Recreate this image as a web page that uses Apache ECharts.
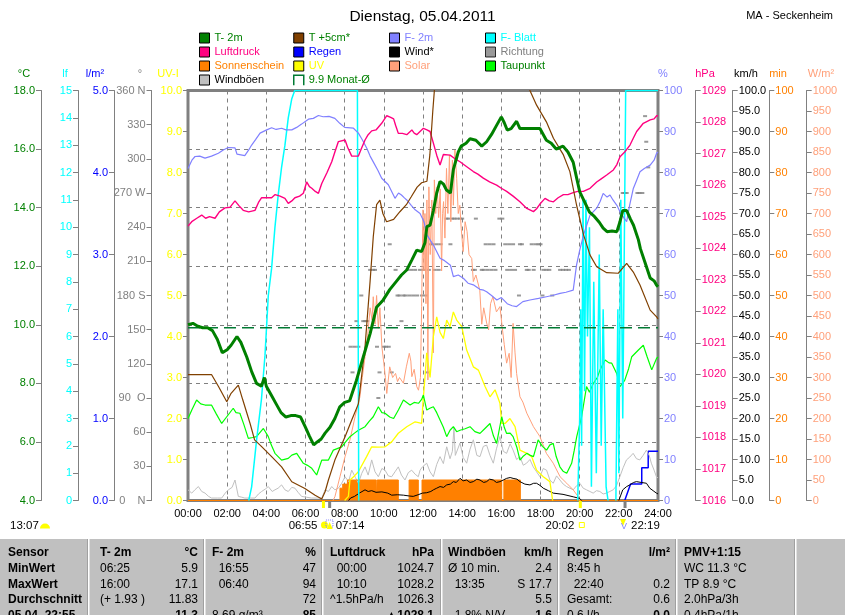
<!DOCTYPE html>
<html><head><meta charset="utf-8">
<script src="https://cdn.jsdelivr.net/npm/echarts@6/dist/echarts.min.js"></script>
<style>html,body{margin:0;padding:0;background:#fff}#c{width:845px;height:615px}</style>
</head><body><div id="c"></div>
<script>
// ---------- DATA (time in hours, value) ----------
const xTickLabels = ['00:00','02:00','04:00','06:00','08:00','10:00','12:00','14:00','16:00','18:00','20:00','22:00','24:00'];
const dirTickLabels = {0:'0    N', 90:'90  O', 180:'180 S', 270:'270 W', 360:'360 N'};

const t2mData = [[0,10.0],[0.25,10.05],[0.5,9.95],[0.75,9.9],[1.0,9.9],[1.25,9.8],[1.5,9.5],[1.75,9.05],[2.0,9.15],[2.2,9.3],[2.5,9.6],[2.7,9.4],[3.0,8.9],[3.25,8.4],[3.5,8.0],[3.75,7.9],[3.9,8.2],[4.0,7.9],[4.25,7.6],[4.5,7.3],[4.75,7.0],[5.0,6.85],[5.25,6.9],[5.5,6.9],[5.75,6.85],[6.0,6.5],[6.2,6.2],[6.42,5.9],[6.6,6.0],[6.8,6.1],[7.0,6.3],[7.25,6.5],[7.5,6.8],[7.75,7.2],[8.0,7.35],[8.25,7.4],[8.6,8.1],[8.95,8.9],[9.3,9.7],[9.63,10.6],[9.97,10.85],[10.3,11.2],[10.66,11.5],[10.9,11.7],[11.17,11.87],[11.42,12.2],[11.68,12.55],[11.93,12.5],[12.1,12.8],[12.2,13.35],[12.36,13.4],[12.53,13.9],[12.7,14.5],[12.87,14.9],[13.05,14.8],[13.2,14.6],[13.4,14.5],[13.55,15.3],[13.8,15.9],[13.95,16.1],[14.2,16.2],[14.4,16.35],[14.7,16.3],[15.0,16.1],[15.25,16.25],[15.5,16.5],[15.75,16.8],[16.0,17.1],[16.15,16.9],[16.3,16.65],[16.5,16.7],[16.78,16.95],[16.95,16.7],[17.3,16.7],[17.97,16.7],[18.3,16.3],[18.55,16.2],[18.8,16.0],[19.15,16.1],[19.4,15.9],[19.67,15.55],[19.85,15.0],[20.0,14.55],[20.25,14.2],[20.5,13.85],[20.75,13.7],[21.0,13.5],[21.2,13.3],[21.4,13.18],[21.65,13.2],[21.9,13.18],[22.05,13.5],[22.2,13.9],[22.4,13.9],[22.6,13.6],[22.75,13.4],[23.0,12.9],[23.1,12.6],[23.35,12.1],[23.6,11.6],[23.8,11.5],[23.93,11.35],[24,11.3]];

const t5cmData = [[0,8.3],[0.5,8.3],[1.0,8.3],[1.2,8.3],[1.55,7.9],[1.98,7.37],[2.2,7.66],[2.57,7.94],[2.8,7.43],[3.17,6.63],[3.4,6.07],[3.76,5.84],[4.27,5.5],[4.78,5.15],[5.3,4.64],[5.97,4.41],[6.49,4.18],[6.83,4.05],[7.0,4.3],[7.17,4.7],[7.5,5.38],[8.02,6.18],[8.36,6.75],[8.7,7.3],[9.04,9.25],[9.3,11.5],[9.46,13.0],[9.63,14.1],[9.8,14.26],[9.95,13.8],[10.14,13.52],[10.5,13.6],[10.82,13.86],[11.15,14.1],[11.4,14.37],[11.7,14.7],[11.93,14.85],[12.2,14.9],[12.35,15.8],[12.5,17.3],[12.65,18.6],[13.0,20.5],[14.0,23.0],[15.0,23.5],[16.0,22.5],[17.0,19.5],[17.46,18.0],[17.8,17.5],[18.3,16.93],[18.66,16.37],[19.17,15.8],[19.5,15.23],[19.84,14.09],[20.2,13.07],[20.53,12.38],[20.87,11.98],[21.38,11.78],[21.97,11.76],[22.4,12.1],[22.74,11.8],[23.08,11.36],[23.6,10.5],[23.93,10.27],[24,10.2]];

const f2mData = [[0,81],[0.2,83],[0.36,83.9],[0.6,84],[0.87,83.5],[1.2,84],[1.55,84.7],[1.8,85.5],[2.06,86.1],[2.4,86],[2.5,84.5],[2.57,84.1],[2.9,84.1],[3.1,85.5],[3.25,86.7],[3.45,88],[3.68,89.6],[4.02,90.4],[4.27,90.9],[4.5,90.5],[4.78,90.8],[5.0,90.4],[5.3,90.4],[5.55,91],[5.8,91.8],[6.15,93],[6.4,93.2],[6.66,93.9],[6.9,93.6],[7.2,93.7],[7.5,93.2],[7.75,92],[8.0,91],[8.45,90.8],[8.7,89.6],[8.9,88],[9.13,85.9],[9.3,84],[9.46,82.6],[9.7,80.5],[9.89,78.6],[10.23,77],[10.57,73.7],[10.75,75],[10.9,74.5],[11.05,73.8],[11.17,73.3],[11.4,72],[11.6,70.9],[11.85,70],[12.05,68],[12.2,64.8],[12.53,62.3],[12.87,59.1],[13.1,58.5],[13.4,57.4],[13.55,54.6],[13.8,55],[14.06,54.2],[14.3,53],[14.57,52.6],[14.9,51.5],[15.1,51.3],[15.25,50.9],[15.5,50],[15.77,48.9],[16.0,49.5],[16.3,48],[16.55,47.5],[16.78,47.3],[17.1,48.5],[17.46,48.9],[17.9,49.3],[18.3,49.7],[18.6,50],[19.0,50.5],[19.3,50.8],[19.67,51.3],[19.84,57.4],[20.0,61],[20.2,64.8],[20.35,67],[20.53,69.6],[20.87,71.3],[21.05,73],[21.2,74.9],[21.4,74],[21.55,74.5],[21.7,73.3],[21.9,72],[22.06,70.4],[22.25,69],[22.4,68],[22.55,72],[22.74,76.1],[22.9,78],[23.08,80.2],[23.3,81],[23.6,81.8],[23.8,83],[23.93,84.7],[24,85]];

// '-' marks a gap (value sits on the zero line and is hidden in the original)
const fBlattData = [[3.1,0],[3.25,0.5],[3.5,2.2],[3.75,3.7],[3.93,5.3],[4.1,7.5],[4.27,8.5],[4.44,10],[4.61,11.2],[4.78,12.2],[4.95,13],[5.12,14],[5.3,14.7],[5.45,15],[8.65,15],[8.72,0],[8.8,'-'],[19.9,0],[20.0,3],[20.05,7],[20.1,2],[20.17,11],[20.25,4],[20.32,11],[20.4,6],[20.5,10],[20.6,0.5],[20.72,8],[20.85,1],[21.0,9],[21.1,2],[21.2,7],[21.35,0.5],[21.45,0],[21.6,'-'],[21.85,0],[21.95,7],[22.0,1],[22.1,11],[22.2,3],[22.35,15],[24,15]];

const pressData = [[0,1024.7],[0.19,1024.84],[0.45,1024.95],[0.7,1025.05],[0.9,1024.95],[1.1,1025.0],[1.38,1024.95],[1.6,1025.15],[1.89,1025.28],[2.15,1025.3],[2.4,1025.5],[2.6,1025.35],[2.82,1025.2],[3.1,1025.15],[3.42,1025.2],[3.6,1025.45],[3.76,1025.6],[4.0,1025.6],[4.27,1025.6],[4.45,1025.7],[4.7,1025.65],[4.95,1025.58],[5.12,1025.42],[5.3,1025.5],[5.46,1025.6],[5.7,1025.65],[5.89,1025.74],[6.06,1026.1],[6.2,1025.95],[6.32,1025.9],[6.5,1025.8],[6.66,1025.74],[6.83,1026.05],[7.1,1026.4],[7.34,1026.74],[7.5,1027.05],[7.68,1027.38],[8.02,1027.43],[8.15,1027.2],[8.36,1026.92],[8.7,1026.92],[8.85,1027.15],[9.04,1027.43],[9.2,1027.6],[9.38,1027.72],[9.6,1027.75],[9.89,1027.96],[10.15,1028.2],[10.35,1028.15],[10.5,1028.1],[10.6,1027.9],[10.74,1027.64],[10.95,1027.64],[11.17,1027.6],[11.43,1027.75],[11.55,1027.65],[11.68,1027.6],[12.02,1027.8],[12.2,1027.75],[12.36,1027.7],[12.45,1027.5],[12.53,1027.33],[12.7,1026.95],[12.87,1026.64],[13.04,1026.97],[13.38,1026.95],[13.6,1026.85],[13.89,1026.74],[14.2,1026.6],[14.57,1026.43],[14.8,1026.35],[15.08,1026.22],[15.4,1026.1],[15.76,1026],[16.0,1025.9],[16.27,1025.8],[16.6,1025.65],[16.95,1025.47],[17.3,1025.26],[17.64,1025.16],[17.8,1025.25],[17.97,1025.4],[18.23,1025.58],[18.45,1025.5],[18.66,1025.47],[18.9,1025.6],[19.17,1025.7],[19.4,1025.7],[19.67,1025.76],[19.9,1025.8],[20.19,1025.8],[20.53,1025.9],[20.87,1026.1],[21.1,1026.2],[21.38,1026.32],[21.72,1026.48],[21.9,1026.65],[22.06,1026.9],[22.3,1027.05],[22.57,1027.27],[22.75,1027.5],[22.91,1027.7],[23.25,1027.96],[23.6,1028.07],[23.8,1028.1],[23.93,1028.2],[24,1028.2]];

const rainData = [[22.3,0],[22.6,0.2],[23.17,0.2],[23.17,0.4],[23.5,0.4],[23.5,0.6],[24,0.6]];

const windData = [[8.2,0],[8.3,0.6],[8.5,1.0],[8.75,1.8],[9.04,2.6],[9.2,2.2],[9.38,2.4],[9.6,2.0],[9.9,2.1],[10.2,1.8],[10.4,1.3],[10.7,1.4],[11.0,1.3],[11.3,1.1],[11.5,1.0],[11.75,1.4],[11.97,1.8],[12.19,1.9],[12.4,2.2],[12.53,2.6],[12.7,3.0],[12.87,3.4],[13.05,3.2],[13.21,3.8],[13.4,4.0],[13.55,4.6],[13.7,4.4],[13.89,5.4],[14.05,4.8],[14.23,5.0],[14.4,4.4],[14.57,4.6],[14.75,5.2],[14.91,5.0],[15.1,4.4],[15.25,4.6],[15.4,5.2],[15.59,5.0],[15.75,4.4],[15.93,4.6],[16.1,5.0],[16.27,5.4],[16.45,5.6],[16.6,5.4],[16.8,5.2],[16.95,4.6],[17.2,4.0],[17.46,3.8],[17.65,4.2],[17.8,4.2],[18.0,3.6],[18.14,3.0],[18.4,2.4],[18.65,1.8],[19.15,1.5],[19.67,0.9],[20.0,0.5],[20.1,0],[20.2,'-'],[22.0,0],[22.2,2.6],[22.4,3.4],[22.56,3.8],[22.75,4.4],[22.9,4.6],[23.15,4.4],[23.41,4.2],[23.58,3.0],[23.75,2.4],[23.92,1.8],[24,1.6]];

const dirData = [[8.3,135],[8.4,112.5],[8.5,135],[8.6,157.5],[8.7,135],[8.85,180],[8.95,157.5],[9.05,157.5],[9.15,157.5],[9.3,202.5],[9.45,202.5],[9.55,202.5],[9.65,135],[9.72,90],[9.78,112.5],[10.0,135],[10.1,135],[10.25,135],[10.3,225],[10.4,112.5],[10.6,202.5],[10.7,180],[10.8,180],[10.9,157.5],[11.0,180],[11.1,180],[11.2,202.5],[11.3,180],[11.4,202.5],[11.5,180],[11.6,202.5],[11.7,180],[11.85,202.5],[11.95,180],[12.05,202.5],[12.15,180],[12.2,112.5],[12.3,202.5],[12.4,225],[12.5,225],[12.6,202.5],[12.7,225],[12.8,202.5],[12.9,225],[13.2,247.5],[13.3,247.5],[13.4,225],[13.5,247.5],[13.6,247.5],[13.75,247.5],[13.9,247.5],[14.0,247.5],[14.55,202.5],[14.65,202.5],[14.7,247.5],[15.0,202.5],[15.1,202.5],[15.2,225],[15.3,202.5],[15.4,225],[15.5,202.5],[15.6,225],[15.7,202.5],[15.9,247.5],[16.05,247.5],[16.2,225],[16.3,202.5],[16.4,225],[16.5,202.5],[16.6,225],[16.7,202.5],[16.9,180],[16.95,225],[17.05,225],[17.3,202.5],[17.4,202.5],[17.55,225],[17.65,202.5],[17.75,225],[17.9,225],[18.0,225],[18.1,180],[18.15,202.5],[18.3,202.5],[18.45,202.5],[18.6,180],[19.0,202.5],[19.15,202.5],[19.3,202.5],[19.45,202.5],[22.2,270],[22.3,270],[22.4,270],[22.95,270],[23.05,270],[23.2,270],[23.34,337.5],[23.4,315],[23.5,292.5]];

const sunData = [[0,0],[7.76,3],[7.9,4],[8.14,5],[9.61,0],[9.66,5],[10.74,0],[11.29,5],[11.76,0],[11.95,5],[16.02,0],[16.13,5],[16.97,0],[24,0]];

const uvData = [[8.0,0],[8.19,0.1],[8.27,0.5],[8.5,0.6],[8.7,0.7],[9.12,1.07],[9.38,1.31],[9.7,1.3],[10.06,1.31],[10.4,1.43],[10.74,1.64],[11.17,1.8],[11.6,1.92],[11.77,1.9],[11.93,1.88],[12.0,2.4],[12.1,3.0],[12.19,3.6],[12.36,3.0],[12.53,4.0],[12.7,4.48],[12.87,4.1],[13.04,3.95],[13.21,4.4],[13.38,4.24],[13.55,4.6],[13.72,4.4],[13.98,4.24],[14.23,3.67],[14.57,3.26],[14.83,3.18],[15.17,2.78],[15.42,2.53],[15.68,2.7],[15.93,2.37],[16.02,1.88],[16.19,1.88],[16.44,2.0],[16.7,1.8],[16.95,1.23],[17.3,1.15],[17.55,1.07],[17.8,0.74],[18.14,0.58],[18.48,0.46],[18.62,0]];

const solarData = [[7.4,0],[7.5,9],[7.76,58],[8.02,107],[8.27,148],[8.53,204],[8.78,253],[8.9,300],[9.04,351],[9.15,390],[9.3,470],[9.4,440],[9.46,497],[9.55,430],[9.63,500],[9.72,420],[9.8,470],[9.9,375],[10.0,335],[10.08,300],[10.15,261],[10.3,326],[10.45,300],[10.6,310],[10.7,290],[10.8,300],[11.0,286],[11.15,326],[11.3,359],[11.38,340],[11.43,302],[11.55,320],[11.68,278],[11.77,269],[11.87,300],[11.93,473],[11.97,619],[12.0,709],[12.05,560],[12.1,700],[12.15,480],[12.2,733],[12.25,294],[12.3,765],[12.37,600],[12.45,733],[12.5,489],[12.53,360],[12.58,782],[12.65,700],[12.72,765],[12.8,690],[12.88,760],[12.95,560],[13.0,700],[13.05,729],[13.12,640],[13.2,810],[13.27,700],[13.35,843],[13.42,680],[13.5,830],[13.55,720],[13.63,855],[13.72,786],[13.8,700],[13.88,720],[13.95,664],[14.05,607],[14.15,680],[14.25,656],[14.35,600],[14.49,590],[14.57,534],[14.7,550],[14.9,513],[15.0,430],[15.1,470],[15.25,433],[15.35,416],[15.45,480],[15.57,497],[15.75,460],[15.93,473],[16.05,420],[16.15,380],[16.27,335],[16.4,359],[16.5,300],[16.6,432],[16.7,360],[16.78,310],[16.95,253],[17.1,240],[17.3,213],[17.64,180],[17.97,156],[18.3,115],[18.65,91],[19.0,58],[19.34,42],[19.67,26],[19.93,9],[20.0,0]];

const dewData = [[0,6.8],[0.2,7.1],[0.44,7.43],[0.65,7.3],[0.87,7.26],[1.2,7.26],[1.45,6.95],[1.72,6.63],[1.98,6.86],[2.31,7.15],[2.45,7.0],[2.65,6.98],[2.85,6.6],[3.08,6.12],[3.3,6.15],[3.5,6.18],[3.85,6.46],[4.1,6.18],[4.25,5.9],[4.44,5.61],[4.78,5.38],[5.12,5.44],[5.3,5.55],[5.55,5.61],[5.89,5.27],[6.1,5.2],[6.32,5.1],[6.57,4.87],[6.83,5.38],[7.17,5.38],[7.42,5.72],[7.85,5.83],[8.05,6.0],[8.27,6.18],[8.5,6.3],[8.7,6.4],[9.04,6.52],[9.25,6.7],[9.46,6.86],[9.72,7.2],[9.9,7.0],[10.06,6.98],[10.3,6.85],[10.5,6.8],[10.75,7.1],[11.0,7.43],[11.34,7.26],[11.55,7.35],[11.77,7.32],[11.93,7.45],[12.02,7.6],[12.19,7.09],[12.35,7.15],[12.53,7.2],[12.7,7.0],[12.87,6.75],[13.04,6.5],[13.21,6.18],[13.38,6.4],[13.55,6.52],[13.72,6.35],[13.89,6.4],[14.15,6.45],[14.4,6.52],[14.65,6.35],[14.91,6.29],[15.15,6.45],[15.42,6.63],[15.6,6.2],[15.76,5.95],[16.02,6.86],[16.15,6.5],[16.27,6.29],[16.45,6.3],[16.6,6.18],[16.8,5.8],[16.95,5.38],[17.1,5.5],[17.3,5.61],[17.45,5.55],[17.64,5.5],[17.88,6.07],[18.1,5.85],[18.31,5.72],[18.48,5.9],[18.65,5.95],[18.8,5.5],[18.99,5.15],[19.15,5.0],[19.34,4.93],[19.59,5.27],[19.72,5.7],[19.85,6.18],[20.1,6.86],[20.35,7.89],[20.5,7.7],[20.7,8.0],[20.9,8.2],[21.04,8.46],[21.3,8.8],[21.5,8.7],[21.64,8.69],[21.89,8.34],[22.06,7.89],[22.3,8.1],[22.5,8.5],[22.66,8.91],[23.0,9.14],[23.25,9.3],[23.45,8.9],[23.68,8.46],[23.93,8.86],[24,8.9]];

const gustData = [[0,2.6],[0.19,1.8],[0.35,2.6],[0.53,3.4],[0.7,2.2],[0.87,1.8],[1.05,1.0],[1.2,0.6],[1.5,0.6],[1.72,0.6],[1.9,1.8],[2.06,2.6],[2.25,3.2],[2.4,5.0],[2.57,1.0],[2.75,0.8],[2.9,0.6],[3.2,0.6],[3.42,0.6],[3.6,1.6],[3.76,2.2],[3.95,2.8],[4.1,3.4],[4.3,2.2],[4.44,2.6],[4.6,3.0],[4.78,3.8],[4.95,2.6],[5.12,2.2],[5.3,3.2],[5.46,3.0],[5.62,2.0],[5.8,1.0],[6.05,0.8],[6.3,0.6],[6.6,0.6],[6.83,0.6],[7.0,2.6],[7.17,2.2],[7.34,3.4],[7.5,2.6],[7.68,3.0],[7.85,4.2],[8.02,5.8],[8.2,4.6],[8.36,7.4],[8.55,5.6],[8.7,4.2],[8.87,6.6],[9.04,8.2],[9.2,6.2],[9.38,9.9],[9.55,7.0],[9.72,5.8],[9.9,7.8],[10.06,7.4],[10.23,6.0],[10.4,5.8],[10.57,7.0],[10.74,8.2],[10.9,6.2],[11.08,5.0],[11.25,6.8],[11.42,7.4],[11.6,6.4],[11.76,5.8],[11.85,7.4],[11.97,8.2],[12.19,9.1],[12.36,7.0],[12.53,5.8],[12.7,8.8],[12.87,10.7],[13.04,9.0],[13.21,13.1],[13.38,10.2],[13.5,12.0],[13.58,17.7],[13.65,11.0],[13.89,14.0],[14.05,10.5],[14.23,9.1],[14.4,12.5],[14.57,14.8],[14.75,11.0],[14.91,10.7],[15.08,13.2],[15.25,13.5],[15.42,11.0],[15.59,9.1],[15.75,12.6],[15.93,15.6],[16.1,12.0],[16.27,11.5],[16.45,13.8],[16.6,12.3],[16.78,10.0],[16.95,10.7],[17.12,8.6],[17.29,9.1],[17.46,10.0],[17.63,8.2],[17.8,7.0],[17.97,5.8],[18.14,7.8],[18.31,7.4],[18.48,5.0],[18.65,4.2],[18.82,6.0],[18.99,5.0],[19.16,4.0],[19.33,3.4],[19.5,3.0],[19.67,2.6],[19.84,3.6],[20.01,4.2],[20.18,3.0],[20.35,2.6],[20.52,2.2],[20.69,1.8],[20.86,2.4],[21.03,2.2],[21.2,1.6],[21.37,1.8],[21.54,2.2],[21.71,2.6],[21.88,3.6],[22.05,5.8],[22.22,8.0],[22.39,9.9],[22.56,10.6],[22.73,11.5],[22.9,10.2],[23.07,9.9],[23.24,11.0],[23.41,12.3],[23.55,11.0],[23.66,9.1],[23.8,7.4],[23.92,5.8],[24,5.5]];

const monthMeanData = [[0,9.9],[24,9.9]];

// sun / moon markers below the x axis
const sunMarks = [
  {h:6.9167, label:'06:55', tick:'#ffff00', side:'left'},
  {h:7.2333, label:'07:14', tick:'#808080', side:'right'},
  {h:20.0333, label:'20:02', tick:'#ffff00', side:'left'},
  {h:22.3167, label:'22:19', tick:'#808080', side:'right'}
];

// bottom table
const tableCol0 = ['Sensor','MinWert','MaxWert','Durchschnitt','05.04. 22:55'];
const tableBlocks = [
  {x0:100, x1:198, head:['T- 2m','°C'], left:['06:25','16:00','(+ 1.93 )',''], right:['5.9','17.1','11.83','11.3']},
  {x0:212, x1:316, head:['F- 2m','%'], left:['  16:55','  06:40','','8.69 g/m³'], right:['47','94','72','85']},
  {x0:330, x1:434, head:['Luftdruck','hPa'], left:['  00:00','  10:10','^1.5hPa/h',''], right:['1024.7','1028.2','1026.3','▲1028.1']},
  {x0:448, x1:552, head:['Windböen','km/h'], left:['Ø 10 min.','  13:35','','  1.8% N/V'], right:['2.4','S 17.7','5.5','1.6']},
  {x0:567, x1:670, head:['Regen','l/m²'], left:['8:45 h','  22:40','Gesamt:','0.6 l/h'], right:['','0.2','0.6','0.0']},
  {x0:684, x1:790, head:['PMV+1:15',''], left:['WC 11.3 °C','TP 8.9 °C','2.0hPa/3h','0.4hPa/1h'], right:['','','','']}
];
const tableRowY = [553, 569, 584.5, 600, 616];
const tableSeparators = [88, 204, 322, 441, 558, 676, 795];

// ---------- CHART ----------
const FONT = "'Liberation Sans', Arial, sans-serif";
const chart = echarts.init(document.getElementById('c'));

const axisDefs = [
  {pos:'left', off:147, min:4, max:18, int:2, color:'#008000', fmt:v=>v.toFixed(1), name:'°C', nx:24},
  {pos:'left', off:110, min:0, max:15, int:1, color:'#00ffff', fmt:v=>String(v), name:'lf', nx:65},
  {pos:'left', off:74, min:0, max:5, int:1, color:'#0000ff', fmt:v=>v.toFixed(1), name:'l/m²', nx:95},
  {pos:'left', off:36.5, min:0, max:360, int:30, color:'#808080', fmt:v=>dirTickLabels[v]!==undefined?dirTickLabels[v]:String(v), name:'°', nx:140},
  {pos:'left', off:0, min:0, max:10, int:1, color:'#ffff00', fmt:v=>v.toFixed(1), name:'UV-I', nx:168},
  {pos:'right', off:0, min:0, max:100, int:10, color:'#8080ff', fmt:v=>String(v), name:'%', nx:663},
  {pos:'right', off:37.7, min:1016, max:1029, int:1, color:'#ff0080', fmt:v=>String(v), name:'hPa', nx:705},
  {pos:'right', off:74.7, min:0, max:100, int:5, color:'#000000', fmt:v=>v.toFixed(1), name:'km/h', nx:746},
  {pos:'right', off:111.3, min:0, max:100, int:10, color:'#ff8000', fmt:v=>String(v), name:'min', nx:778},
  {pos:'right', off:148.7, min:0, max:1000, int:50, color:'#ffa07a', fmt:v=>String(v), name:'W/m²', nx:821}
];

const yAxes = axisDefs.map((a,i)=>({
  type:'value', position:a.pos, offset:a.off, min:a.min, max:a.max, interval:a.int,
  axisLine:{show:true, onZero:false, lineStyle:{color:'#808080', width:1}},
  axisTick:{show:true, length:5, lineStyle:{color:'#808080'}},
  axisLabel:{color:a.color, fontSize:11, fontFamily:FONT, margin:6, formatter:a.fmt},
  splitLine:i===0?{show:true, lineStyle:{type:[4,4], color:'#808080', width:1}}:{show:false}
}));

function lineS(name, data, yi, color, width, extra){
  return Object.assign({type:'line', name, data, yAxisIndex:yi, showSymbol:false, symbol:'none', connectNulls:false,
    lineStyle:{color, width}, itemStyle:{color}, silent:true, emphasis:{disabled:true}}, extra||{});
}

const series = [
  lineS('Regen', rainData, 2, '#0000ff', 1.5),
  lineS('Windböen', gustData, 7, '#c0c0c0', 1),
  lineS('Sonnenschein', sunData, 8, '#ff8000', 1, {step:'end', areaStyle:{color:'#ff8000', opacity:1}}),
  lineS('Solar', solarData, 9, '#ffa07a', 1),
  lineS('Wind*', windData, 7, '#000000', 1),
  lineS('UV', uvData, 4, '#ffff00', 1.3),
  lineS('Taupunkt', dewData, 0, '#00ff00', 1.2),
  lineS('F- Blatt', fBlattData, 1, '#00ffff', 1.5),
  lineS('F- 2m', f2mData, 5, '#8080ff', 1.2),
  lineS('Luftdruck', pressData, 6, '#ff0080', 1.4),
  {type:'scatter', name:'Richtung', data:dirData, yAxisIndex:3, symbol:'rect', symbolSize:[4,2], itemStyle:{color:'#808080'}, silent:true, emphasis:{disabled:true}},
  lineS('T +5cm*', t5cmData, 0, '#804000', 1.2),
  lineS('9.9 Monat-Ø', monthMeanData, 0, '#007a33', 1.5, {lineStyle:{color:'#007a33', width:1.5, type:[12,6]}}),
  lineS('T- 2m', t2mData, 0, '#008000', 3)
];

const legendCols = [
  ['T- 2m','Luftdruck','Sonnenschein','Windböen'],
  ['T +5cm*','Regen','UV','9.9 Monat-Ø'],
  ['F- 2m','Wind*','Solar'],
  ['F- Blatt','Richtung','Taupunkt']
];
const legendX = [199, 293, 389, 485];
const legendTextColor = {'T- 2m':'#008000','Luftdruck':'#ff0080','Sonnenschein':'#ff8000','Windböen':'#000000',
  'T +5cm*':'#008000','Regen':'#0000ff','UV':'#ffff00','9.9 Monat-Ø':'#008000',
  'F- 2m':'#8080ff','Wind*':'#000000','Solar':'#ffa07a',
  'F- Blatt':'#00ffff','Richtung':'#808080','Taupunkt':'#008000'};

const legends = legendCols.map((col,i)=>({
  orient:'vertical', left:legendX[i], top:32.5, padding:0, itemWidth:10, itemHeight:10, itemGap:3,
  icon:'rect', selectedMode:false,
  itemStyle:{borderColor:'#000', borderWidth:1},
  textStyle:{fontSize:11, lineHeight:11, fontFamily:FONT},
  data: col.map(n=>{
    const d = {name:n, textStyle:{color:legendTextColor[n]}};
    if (n==='9.9 Monat-Ø') { d.icon='path://M0,10L0,0L10,0L10,10'; d.itemStyle={color:'rgba(0,0,0,0)', borderColor:'#007a33', borderWidth:1.5}; }
    return d;
  })
}));

chart.setOption({
  animation:false,
  backgroundColor:'#ffffff',
  textStyle:{fontFamily:FONT},
  title:[
    {text:'Dienstag, 05.04.2011', left:'center', top:4, textStyle:{fontSize:15.5, fontWeight:'normal', color:'#000', fontFamily:FONT}},
    {text:'MA - Seckenheim', right:7, top:5, textStyle:{fontSize:11, fontWeight:'normal', color:'#000', fontFamily:FONT}}
  ],
  legend: legends,
  grid:{left:188, top:90.5, width:470, height:410, show:true, borderColor:'#808080', borderWidth:3, backgroundColor:'#fff', containLabel:false, outerBoundsMode:'none'},
  xAxis:{type:'value', min:0, max:24, interval:2,
    axisLine:{show:true, onZero:false, lineStyle:{color:'#808080', width:2}},
    axisTick:{show:true, inside:true, length:4, lineStyle:{color:'#808080'}},
    axisLabel:{color:'#000', fontSize:11, fontFamily:FONT, margin:8, formatter:v=>xTickLabels[Math.round(v/2)]},
    splitLine:{show:true, lineStyle:{type:[4,4], color:'#808080', width:1}}},
  yAxis: yAxes,
  series: series
});

// ---------- GRAPHICS (axis titles, markers, table) ----------
const G = [];
function txt(x, y, text, color, opts){
  opts = opts || {};
  G.push({type:'text', z:100, silent:true, style:{x, y, text, fill:color||'#000',
    font:(opts.bold?'bold ':'')+(opts.size||11)+'px '+FONT, align:opts.align||'left', verticalAlign:'middle'}});
}
axisDefs.forEach(a=>txt(a.nx, 74, a.name, a.color, {align:'center'}));

// moon info bottom-left
txt(10, 526, '13:07', '#000', {size:11.5});
G.push({type:'sector', z:100, silent:true, shape:{cx:45, cy:528.5, r:5, r0:0, startAngle:Math.PI, endAngle:Math.PI*2}, style:{fill:'#ffff00'}});

sunMarks.forEach(m=>{
  const x = chart.convertToPixel({xAxisIndex:0}, m.h);
  G.push({type:'rect', z:100, silent:true, shape:{x:x-1.5, y:501, width:3, height:7}, style:{fill:m.tick}});
  if (m.side==='left') txt(x-6, 526, m.label, '#000', {size:11.5, align:'right'});
  else txt(x+6, 526, m.label, '#000', {size:11.5, align:'left'});
});
(function(){
  const xr = chart.convertToPixel({xAxisIndex:0}, sunMarks[0].h);
  G.push({type:'circle', z:100, silent:true, shape:{cx:xr+1, cy:525, r:3.5}, style:{fill:'#ffff00'}});
  G.push({type:'rect', z:100, silent:true, shape:{x:xr+2.5, y:520, width:7, height:7}, style:{fill:'none', stroke:'#8080ff', lineWidth:1, lineDash:[1,1]}});
  const xm = chart.convertToPixel({xAxisIndex:0}, sunMarks[1].h);
  G.push({type:'polygon', z:100, silent:true, shape:{points:[[xm-3,529],[xm+3,529],[xm,522]]}, style:{fill:'#ffff00'}});
  const xs = chart.convertToPixel({xAxisIndex:0}, sunMarks[2].h);
  G.push({type:'rect', z:100, silent:true, shape:{x:xs-1, y:522.5, width:5, height:5}, style:{fill:'none', stroke:'#ffff00', lineWidth:1}});
  const xn = chart.convertToPixel({xAxisIndex:0}, sunMarks[3].h);
  G.push({type:'polygon', z:100, silent:true, shape:{points:[[xn-5,519],[xn+1,519],[xn-2,526]]}, style:{fill:'#ffff00'}});
  txt(xn-1, 527, 'V', '#8080ff', {size:9, align:'center'});
})();

// table
G.push({type:'rect', z:90, silent:true, shape:{x:0, y:539, width:845, height:80}, style:{fill:'#c0c0c0'}});
tableSeparators.forEach(x=>{
  G.push({type:'rect', z:91, silent:true, shape:{x:x-1, y:539, width:1, height:80}, style:{fill:'#a0a0a0'}});
  G.push({type:'rect', z:91, silent:true, shape:{x:x, y:539, width:1.5, height:80}, style:{fill:'#ffffff'}});
});
tableCol0.forEach((t,i)=>txt(8, tableRowY[i], t, '#000', {size:12, bold:true}));
tableBlocks.forEach(b=>{
  txt(b.x0, tableRowY[0], b.head[0], '#000', {size:12, bold:true});
  if (b.head[1]) txt(b.x1, tableRowY[0], b.head[1], '#000', {size:12, bold:true, align:'right'});
  b.left.forEach((t,i)=>{ if (t) txt(b.x0, tableRowY[i+1], t, '#000', {size:12}); });
  b.right.forEach((t,i)=>{ if (t) txt(b.x1, tableRowY[i+1], t, '#000', {size:12, bold:i===3, align:'right'}); });
});

chart.setOption({graphic:{elements:G}});
</script>
</body></html>
